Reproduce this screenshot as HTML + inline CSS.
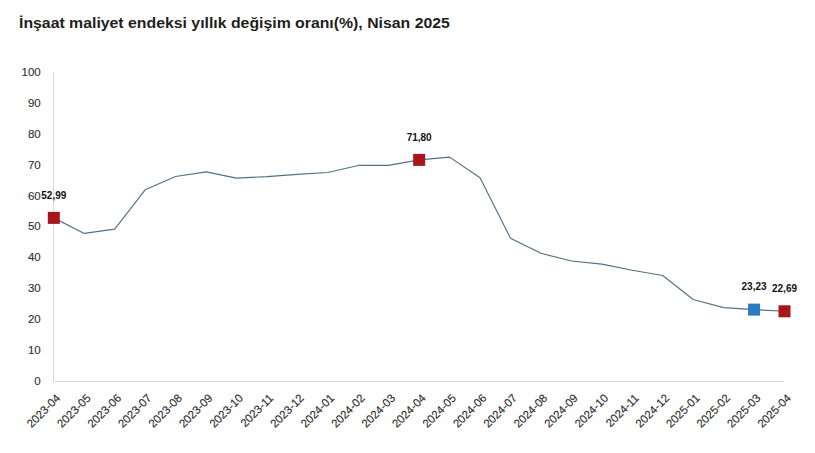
<!DOCTYPE html>
<html><head><meta charset="utf-8"><style>
html,body{margin:0;padding:0;background:#fff;width:815px;height:453px;overflow:hidden}
.t{position:absolute;left:19px;top:14.5px;transform:scaleX(1.13);transform-origin:0 0;font:bold 14px "Liberation Sans",sans-serif;color:#1e1e1e;white-space:nowrap}
svg{position:absolute;left:0;top:0}
.yl{font:11.5px "Liberation Sans",sans-serif;fill:#2e2e2e;stroke:#2e2e2e;stroke-width:0.1px}
.xl{font:11.4px "Liberation Sans",sans-serif;fill:#2e2e2e;stroke:#2e2e2e;stroke-width:0.15px}
.dl{font:bold 10px "Liberation Sans",sans-serif;fill:#111}
</style></head><body>
<div class="t">İnşaat maliyet endeksi yıllık değişim oranı(%), Nisan 2025</div>
<svg width="815" height="453" viewBox="0 0 815 453">
<line x1="53.5" y1="72" x2="53.5" y2="381.5" stroke="#d9d9d9" stroke-width="1"/>
<line x1="53" y1="381.5" x2="784" y2="381.5" stroke="#d9d9d9" stroke-width="1"/>
<text x="40.7" y="384.9" text-anchor="end" class="yl">0</text>
<text x="40.7" y="354.0" text-anchor="end" class="yl">10</text>
<text x="40.7" y="323.1" text-anchor="end" class="yl">20</text>
<text x="40.7" y="292.2" text-anchor="end" class="yl">30</text>
<text x="40.7" y="261.3" text-anchor="end" class="yl">40</text>
<text x="40.7" y="230.4" text-anchor="end" class="yl">50</text>
<text x="40.7" y="199.5" text-anchor="end" class="yl">60</text>
<text x="40.7" y="168.6" text-anchor="end" class="yl">70</text>
<text x="40.7" y="137.7" text-anchor="end" class="yl">80</text>
<text x="40.7" y="106.8" text-anchor="end" class="yl">90</text>
<text x="40.7" y="75.9" text-anchor="end" class="yl">100</text>
<text transform="translate(61.0,398.8) rotate(-45)" text-anchor="end" class="xl">2023-04</text>
<text transform="translate(91.4,398.8) rotate(-45)" text-anchor="end" class="xl">2023-05</text>
<text transform="translate(121.9,398.8) rotate(-45)" text-anchor="end" class="xl">2023-06</text>
<text transform="translate(152.3,398.8) rotate(-45)" text-anchor="end" class="xl">2023-07</text>
<text transform="translate(182.8,398.8) rotate(-45)" text-anchor="end" class="xl">2023-08</text>
<text transform="translate(213.2,398.8) rotate(-45)" text-anchor="end" class="xl">2023-09</text>
<text transform="translate(243.7,398.8) rotate(-45)" text-anchor="end" class="xl">2023-10</text>
<text transform="translate(274.1,398.8) rotate(-45)" text-anchor="end" class="xl">2023-11</text>
<text transform="translate(304.6,398.8) rotate(-45)" text-anchor="end" class="xl">2023-12</text>
<text transform="translate(335.0,398.8) rotate(-45)" text-anchor="end" class="xl">2024-01</text>
<text transform="translate(365.5,398.8) rotate(-45)" text-anchor="end" class="xl">2024-02</text>
<text transform="translate(395.9,398.8) rotate(-45)" text-anchor="end" class="xl">2024-03</text>
<text transform="translate(426.4,398.8) rotate(-45)" text-anchor="end" class="xl">2024-04</text>
<text transform="translate(456.8,398.8) rotate(-45)" text-anchor="end" class="xl">2024-05</text>
<text transform="translate(487.2,398.8) rotate(-45)" text-anchor="end" class="xl">2024-06</text>
<text transform="translate(517.7,398.8) rotate(-45)" text-anchor="end" class="xl">2024-07</text>
<text transform="translate(548.1,398.8) rotate(-45)" text-anchor="end" class="xl">2024-08</text>
<text transform="translate(578.6,398.8) rotate(-45)" text-anchor="end" class="xl">2024-09</text>
<text transform="translate(609.0,398.8) rotate(-45)" text-anchor="end" class="xl">2024-10</text>
<text transform="translate(639.5,398.8) rotate(-45)" text-anchor="end" class="xl">2024-11</text>
<text transform="translate(669.9,398.8) rotate(-45)" text-anchor="end" class="xl">2024-12</text>
<text transform="translate(700.4,398.8) rotate(-45)" text-anchor="end" class="xl">2025-01</text>
<text transform="translate(730.8,398.8) rotate(-45)" text-anchor="end" class="xl">2025-02</text>
<text transform="translate(761.3,398.8) rotate(-45)" text-anchor="end" class="xl">2025-03</text>
<text transform="translate(791.7,398.8) rotate(-45)" text-anchor="end" class="xl">2025-04</text>
<polyline points="53.80,217.88 84.25,233.42 114.69,229.10 145.14,189.80 175.58,176.54 206.03,171.91 236.48,178.08 266.92,176.69 297.37,174.38 327.81,172.53 358.26,165.44 388.71,165.44 419.15,159.89 449.60,157.12 480.04,177.77 510.49,238.20 540.94,253.31 571.38,261.01 601.83,264.10 632.27,270.26 662.72,275.50 693.17,299.55 723.61,307.57 754.06,309.63 784.50,311.30" fill="none" stroke="#517186" stroke-width="1.15" stroke-linejoin="round"/>
<rect x="47.80" y="211.88" width="12" height="12" fill="#a8161b"/>
<text x="53.80" y="198.58" text-anchor="middle" class="dl">52,99</text>
<rect x="413.15" y="153.89" width="12" height="12" fill="#a8161b"/>
<text x="419.15" y="140.59" text-anchor="middle" class="dl">71,80</text>
<rect x="748.06" y="303.63" width="12" height="12" fill="#2b7bbd"/>
<text x="754.06" y="290.33" text-anchor="middle" class="dl">23,23</text>
<rect x="778.50" y="305.30" width="12" height="12" fill="#a8161b"/>
<text x="784.50" y="292.00" text-anchor="middle" class="dl">22,69</text>
</svg>
</body></html>
